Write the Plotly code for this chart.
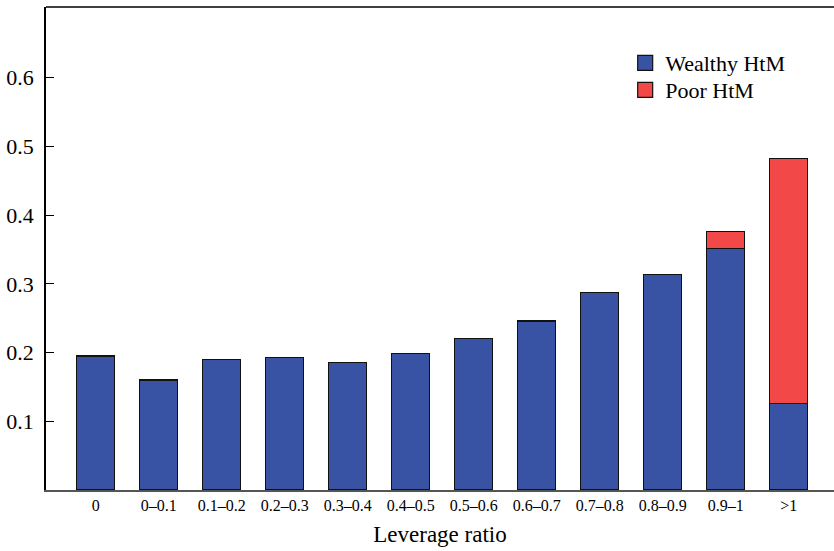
import plotly.graph_objects as go

categories = ["0", "0–0.1", "0.1–0.2", "0.2–0.3", "0.3–0.4", "0.4–0.5",
              "0.5–0.6", "0.6–0.7", "0.7–0.8", "0.8–0.9", "0.9–1", ">1"]
wealthy_htm = [0.195, 0.160, 0.190, 0.193, 0.185, 0.199,
               0.221, 0.246, 0.287, 0.314, 0.352, 0.126]
poor_htm = [None, None, None, None, None, None, None, None, None, None, 0.024, 0.356]
y_ticks = [0.1, 0.2, 0.3, 0.4, 0.5, 0.6]

BLUE = "rgb(57,83,164)"
RED = "rgb(242,72,72)"
FONT = "'Liberation Serif', 'Times New Roman', serif"

x_idx = list(range(len(categories)))

fig = go.Figure()
fig.add_trace(go.Bar(x=x_idx, y=wealthy_htm, marker=dict(color=BLUE, line=dict(color="#111", width=1.2)),
                     width=0.6, showlegend=False))
fig.add_trace(go.Bar(x=x_idx, y=poor_htm, marker=dict(color=RED, line=dict(color="#111", width=1.2)),
                     width=0.6, showlegend=False))
# legend proxies
fig.add_trace(go.Scatter(x=[None], y=[None], mode="markers", name="Wealthy HtM", legend="legend",
                         marker=dict(symbol="square", size=15, color=BLUE, line=dict(color="#111", width=1.2))))
fig.add_trace(go.Scatter(x=[None], y=[None], mode="markers", name="Poor HtM", legend="legend2",
                         marker=dict(symbol="square", size=15, color=RED, line=dict(color="#111", width=1.2))))

leg_common = dict(xanchor="left", yanchor="middle", bgcolor="rgba(0,0,0,0)",
                  font=dict(family=FONT, size=22), itemwidth=30, traceorder="normal")

fig.update_layout(
    barmode="stack",
    width=834, height=551,
    margin=dict(l=46, r=0, t=7, b=61),
    plot_bgcolor="white", paper_bgcolor="white",
    font=dict(family=FONT, color="black"),
    legend=dict(x=0.735, y=0.884, **leg_common),
    legend2=dict(x=0.735, y=0.828, **leg_common),
    xaxis=dict(range=[-0.79, 11.72], tickmode="array", tickvals=x_idx, ticktext=categories,
               automargin=False,
               showline=True, linecolor="#555", linewidth=1.5, ticks="", showgrid=False, zeroline=False,
               tickfont=dict(family=FONT, size=16),
               title=dict(text="Leverage ratio", font=dict(family=FONT, size=23), standoff=13)),
    yaxis=dict(range=[0, 0.703], tickmode="array", tickvals=y_ticks, ticktext=[f"{v:.1f}" for v in y_ticks],
               automargin=False,
               showline=True, linecolor="black", linewidth=1.5, ticks="inside", ticklen=8, tickwidth=1.2,
               tickcolor="black", showgrid=False, zeroline=False,
               tickfont=dict(family=FONT, size=22), ticklabelstandoff=6),
    shapes=[dict(type="line", xref="paper", yref="paper", x0=0, x1=1, y0=1, y1=1,
                 line=dict(color="black", width=1.5))],
)

fig.write_html("out.html", config={"displayModeBar": False},
               post_script="document.body.style.margin='0';")
